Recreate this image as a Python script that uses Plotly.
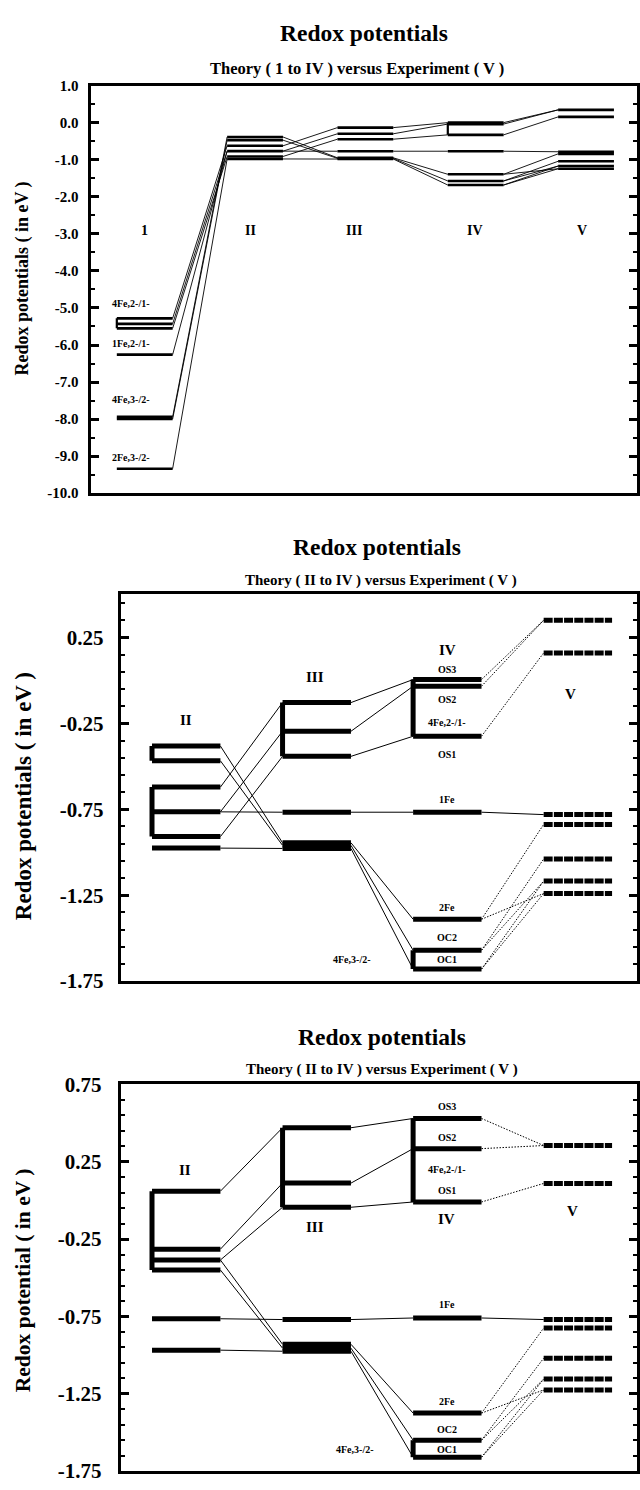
import plotly.graph_objects as go

W, H = 640, 1490

# ---------------- data ----------------
P1_COLUMNS = ["1", "II", "III", "IV", "V"]
P23_COLUMNS = ["II", "III", "IV", "V"]

# Panel 1, column 1 (theory level 1)
P1_I = [-5.28, -5.43, -5.55, -6.26, -7.94, -8.00, -9.34]
P1_I_LABELS = ["4Fe,2-/1-", "1Fe,2-/1-", "4Fe,3-/2-", "2Fe,3-/2-"]
P1_I_LABEL_Y = [-4.87, -5.96, -7.48, -9.03]

# Panel 2 (also columns II-V of panel 1)
P2_II = [-0.382, -0.468, -0.621, -0.765, -0.909, -0.976]
P2_III = [-0.129, -0.296, -0.442, -0.767, -0.945, -0.960, -0.978]
P2_IV = [0.005, -0.034, -0.325, -0.767, -1.39, -1.57, -1.68]
P2_V = [0.35, 0.16, -0.781, -0.838, -1.039, -1.168, -1.240]

# Panel 3
P3_II = [0.060, -0.315, -0.385, -0.450, -0.765, -0.968]
P3_III = [0.470, 0.112, -0.044, -0.770, -0.930, -0.955, -0.975]
P3_IV = [0.530, 0.335, -0.010, -0.760, -1.375, -1.550, -1.660]
P3_V = [0.355, 0.110, -0.770, -0.825, -1.020, -1.155, -1.225]

# connections: (from column, from level, to column, to level, style)
LINKS_2 = [
    (0, 0, 1, 4, "solid"), (0, 1, 1, 5, "solid"), (0, 2, 1, 0, "solid"),
    (0, 3, 1, 1, "solid"), (0, 4, 1, 2, "solid"), (0, 3, 1, 3, "solid"),
    (0, 5, 1, 6, "solid"),
    (1, 0, 2, 0, "solid"), (1, 1, 2, 1, "solid"), (1, 2, 2, 2, "solid"),
    (1, 3, 2, 3, "solid"), (1, 4, 2, 4, "solid"), (1, 5, 2, 5, "solid"),
    (1, 6, 2, 6, "solid"),
    (2, 0, 3, 0, "dot"), (2, 1, 3, 0, "dot"), (2, 2, 3, 1, "dot"),
    (2, 3, 3, 2, "solid"), (2, 4, 3, 3, "dot"), (2, 4, 3, 6, "dot"),
    (2, 5, 3, 4, "dot"), (2, 5, 3, 5, "dot"), (2, 6, 3, 5, "dot"),
    (2, 6, 3, 6, "dot"),
]
LINKS_3 = [
    (0, 0, 1, 0, "solid"), (0, 1, 1, 1, "solid"), (0, 2, 1, 2, "solid"),
    (0, 2, 1, 4, "solid"), (0, 3, 1, 5, "solid"), (0, 4, 1, 3, "solid"),
    (0, 5, 1, 6, "solid"),
    (1, 0, 2, 0, "solid"), (1, 1, 2, 1, "solid"), (1, 2, 2, 2, "solid"),
    (1, 3, 2, 3, "solid"), (1, 4, 2, 4, "solid"), (1, 5, 2, 5, "solid"),
    (1, 6, 2, 6, "solid"),
    (2, 0, 3, 0, "dot"), (2, 1, 3, 0, "dot"), (2, 2, 3, 1, "dot"),
    (2, 3, 3, 2, "solid"), (2, 4, 3, 3, "dot"), (2, 4, 3, 6, "dot"),
    (2, 5, 3, 4, "dot"), (2, 5, 3, 5, "dot"), (2, 6, 3, 5, "dot"),
    (2, 6, 3, 6, "dot"),
]
LINKS_1_FIRST = [
    (0, 0, 1, 2), (0, 1, 1, 3), (0, 2, 1, 4), (0, 3, 1, 3),
    (0, 4, 1, 0), (0, 5, 1, 1), (0, 6, 1, 5),
]
# vertical connectors: (column, top level, bottom level)
BARS_1 = [(0, 0, 2), (3, 0, 2)]
BARS_2 = [(0, 0, 1), (0, 2, 4), (1, 0, 2), (2, 0, 2), (2, 5, 6)]
BARS_3 = [(0, 0, 3), (1, 0, 2), (2, 0, 2), (2, 5, 6)]

P1_YTICKS = [1.0, 0.0, -1.0, -2.0, -3.0, -4.0, -5.0, -6.0, -7.0, -8.0, -9.0, -10.0]
P1_YTEXT = ["1.0", "0.0", "-1.0", "-2.0", "-3.0", "-4.0", "-5.0", "-6.0",
            "-7.0", "-8.0", "-9.0", "-10.0"]
P2_YTICKS = [0.25, -0.25, -0.75, -1.25, -1.75]
P2_YTEXT = ["0.25", "-0.25", "-0.75", "-1.25", "-1.75"]
P3_YTICKS = [0.75, 0.25, -0.25, -0.75, -1.25, -1.75]
P3_YTEXT = ["0.75", "0.25", "-0.25", "-0.75", "-1.25", "-1.75"]

FONT = "Liberation Serif"

# ---------------- layout geometry (pixels) ----------------
BOX = {  # left, right, top, bottom
    1: (90.7, 638, 75, 489),
    2: (121, 638, 592, 985),
    3: (121, 638, 1090, 1483),
}
XRANGE = {1: [-0.491, 4.462], 2: [-0.501, 3.453], 3: [-0.501, 3.453]}
HALFW = {1: 0.253, 2: 0.262, 3: 0.262}


def px(x, y):
    return x / W, 1 - y / H


fig = go.Figure()


def add_panel(n, levels, links, bars, dashed_cols, lev_w, link_w, bar_w):
    xa = "x" if n == 1 else f"x{n}"
    ya = "y" if n == 1 else f"y{n}"
    hw = HALFW[n]
    sx, sy, dx, dy = [], [], [], []
    for c0, i0, c1, i1, st in links:
        xs = [c0 + hw, c1 - hw, None]
        ys = [levels[c0][i0], levels[c1][i1], None]
        if st == "dot":
            dx += xs
            dy += ys
        else:
            sx += xs
            sy += ys
    common = dict(mode="lines", xaxis=xa, yaxis=ya, hoverinfo="skip",
                  showlegend=False)
    fig.add_trace(go.Scatter(x=sx, y=sy, line=dict(color="black", width=link_w),
                             **common))
    if dx:
        fig.add_trace(go.Scatter(x=dx, y=dy,
                                 line=dict(color="black", width=1.0, dash="1.5px,1.5px"),
                                 **common))
    lx, ly, ex, ey = [], [], [], []
    for c, col in enumerate(levels):
        for v in col:
            if c in dashed_cols:
                ex += [c - hw, c + hw, None]
                ey += [v, v, None]
            else:
                lx += [c - hw, c + hw, None]
                ly += [v, v, None]
    fig.add_trace(go.Scatter(x=lx, y=ly, line=dict(color="black", width=lev_w),
                             **common))
    if ex:
        fig.add_trace(go.Scatter(x=ex, y=ey,
                                 line=dict(color="black", width=lev_w, dash="9px,1.2px"),
                                 **common))
    bx, by = [], []
    for c, i0, i1 in bars:
        bx += [c - hw, c - hw, None]
        by += [levels[c][i0], levels[c][i1], None]
    fig.add_trace(go.Scatter(x=bx, y=by, line=dict(color="black", width=bar_w),
                             **common))


# panel 1 uses column 1 plus panel-2 columns
levels1 = [P1_I, P2_II, P2_III, P2_IV, P2_V]
links1 = [(a, b, c, d, "solid") for a, b, c, d in LINKS_1_FIRST]
links1 += [(a + 1, b, c + 1, d, "solid") for a, b, c, d, _ in LINKS_2]
add_panel(1, levels1, links1, BARS_1, [], 2.6, 0.9, 2.2)
add_panel(2, [P2_II, P2_III, P2_IV, P2_V], LINKS_2, BARS_2, [3], 5, 1.0, 5)
add_panel(3, [P3_II, P3_III, P3_IV, P3_V], LINKS_3, BARS_3, [3], 5, 1.0, 5)


def xaxis(n):
    l, r, t, b = BOX[n]
    return dict(domain=[l / W, r / W], range=XRANGE[n], showline=True, mirror=True,
                linecolor="black", linewidth=3, ticks="", showticklabels=False,
                showgrid=False, zeroline=False, fixedrange=True,
                anchor="y" if n == 1 else f"y{n}")


def yaxis(n, rng, tv, tt, minor_dtick, minor_tick0, fsize, standoff):
    l, r, t, b = BOX[n]
    return dict(domain=[1 - b / H, 1 - t / H], range=rng, showline=True,
                mirror="ticks", linecolor="black", linewidth=3, ticks="inside",
                ticklen=8, tickwidth=2.5, tickcolor="black", tickmode="array",
                tickvals=tv, ticktext=tt, ticklabelstandoff=standoff,
                tickfont=dict(family=FONT, size=fsize, color="black", weight="bold"),
                minor=dict(ticks="inside", ticklen=4, tickwidth=2, tickcolor="black",
                           dtick=minor_dtick, tick0=minor_tick0),
                showgrid=False, zeroline=False, fixedrange=True,
                anchor="x" if n == 1 else f"x{n}")


annotations = []


def ann(text, x, y, size, xref="paper", yref="paper", angle=0):
    if xref == "paper":
        x, y = px(x, y)
    annotations.append(dict(text=f"<b>{text}</b>", x=x, y=y, xref=xref, yref=yref,
                            showarrow=False, textangle=angle, xanchor="center",
                            yanchor="middle",
                            font=dict(family=FONT, size=size, color="black")))


# titles
ann("Redox potentials", 365, 21, 23.5)
ann("Theory ( 1 to IV ) versus Experiment ( V )", 358, 57, 16.5)
ann("Redox potentials", 378, 544, 23.5)
ann("Theory ( II to IV ) versus Experiment ( V )", 382, 578, 15)
ann("Redox potentials", 383, 1042, 23.5)
ann("Theory ( II to IV ) versus Experiment ( V )", 383, 1075, 15)
# axis titles
ann("Redox potentials ( in eV )", 23, 271, 18, angle=-90)
ann("Redox potentials ( in eV )", 23, 797, 23, angle=-90)
ann("Redox potential ( in eV )", 23, 1289, 21.5, angle=-90)

# panel 1 column labels
for name, xc in zip(P1_COLUMNS, [0.0, 0.96, 1.9, 2.99, 3.96]):
    ann(name, xc, -2.92, 14, "x", "y")
for t, yv in zip(P1_I_LABELS, P1_I_LABEL_Y):
    ann(t, -0.12, yv, 10, "x", "y")

# panel 2 labels
for name, xc, yv in zip(P23_COLUMNS, [0.0, 0.99, 2.0, 2.94], [-0.229, 0.02, 0.175, -0.08]):
    ann(name, xc, yv, 15, "x2", "y2")
P2_TEXT = ["OS3", "OS2", "4Fe,2-/1-", "OS1", "1Fe", "2Fe", "OC2", "OC1", "4Fe,3-/2-"]
P2_TEXT_X = [2.0, 2.0, 2.0, 2.0, 2.0, 2.0, 2.0, 2.0, 1.27]
P2_TEXT_Y = [0.065, -0.11, -0.244, -0.432, -0.694, -1.32, -1.495, -1.625, -1.625]
for t, xv, yv in zip(P2_TEXT, P2_TEXT_X, P2_TEXT_Y):
    ann(t, xv, yv, 10, "x2", "y2")

# panel 3 labels
for name, xc, yv in zip(P23_COLUMNS, [-0.01, 0.99, 1.99, 2.96], [0.2, -0.17, -0.12, -0.07]):
    ann(name, xc, yv, 15, "x3", "y3")
P3_TEXT = ["OS3", "OS2", "4Fe,2-/1-", "OS1", "1Fe", "2Fe", "OC2", "OC1", "4Fe,3-/2-"]
P3_TEXT_X = [2.0, 2.0, 2.0, 2.0, 2.0, 2.0, 2.0, 2.0, 1.29]
P3_TEXT_Y = [0.605, 0.41, 0.2, 0.065, -0.67, -1.30, -1.478, -1.612, -1.612]
for t, xv, yv in zip(P3_TEXT, P3_TEXT_X, P3_TEXT_Y):
    ann(t, xv, yv, 10, "x3", "y3")

fig.update_layout(
    width=W, height=H, margin=dict(l=0, r=0, t=0, b=0),
    paper_bgcolor="white", plot_bgcolor="white", showlegend=False,
    xaxis=xaxis(1), xaxis2=xaxis(2), xaxis3=xaxis(3),
    yaxis=yaxis(1, [-10, 1], P1_YTICKS, P1_YTEXT, 0.5, 0.5, 15, 6),
    yaxis2=yaxis(2, [-1.75, 0.5], P2_YTICKS, P2_YTEXT, 0.1, 0.25, 21, 10),
    yaxis3=yaxis(3, [-1.75, 0.75], P3_YTICKS, P3_YTEXT, 0.1, 0.25, 21, 12),
    annotations=annotations,
)

fig.write_html("out.html", config={"displayModeBar": False},
               post_script="document.body.style.margin='0';document.body.style.overflow='hidden';")
